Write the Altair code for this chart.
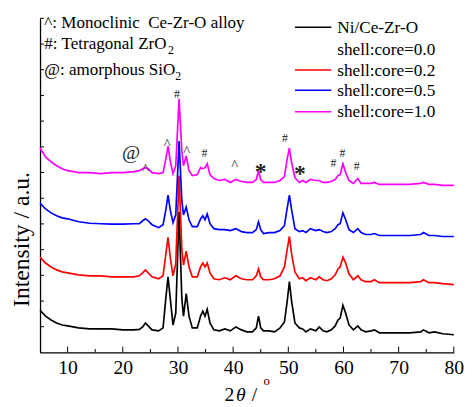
import altair as alt
import pandas as pd

# ---------------- data ----------------
two_theta = [5, 6, 7, 8, 9, 10, 12, 14, 16, 18, 20, 22, 23, 23.6, 24.1, 24.6, 25.3,
             26.5, 27.3, 27.8, 28.2, 28.6, 29.1, 29.6, 30.2, 30.7, 31.0, 31.5, 32.0,
             32.6, 33.5, 34.1, 34.5, 34.9, 35.3, 35.8, 36.5, 37.5, 38.5, 39.5, 40.5,
             41.5, 42.5, 43.5, 44.2, 44.6, 45.0, 45.5, 46.5, 47.5, 48.5, 49.3, 49.8,
             50.2, 50.6, 51.2, 52.0, 52.6, 53.2, 54.0, 55.0, 55.6, 56.3, 57.0, 57.8,
             58.5, 59.0, 59.4, 59.9, 60.4, 61.0, 61.8, 62.6, 63.2, 64.0, 65.0, 65.6,
             66.5, 68, 70, 72, 74, 74.5, 75.5, 76.5, 78, 80]

int_00 = [43, 37, 33, 30, 28, 27, 25, 24, 24, 24, 23, 23, 23.5, 26, 30, 27, 23,
          22, 25, 55, 77, 55, 28, 40, 143, 55, 37, 60, 37,
          25, 25, 37, 42, 37, 44, 30, 23, 22, 24, 22, 26,
          23, 21, 21, 25, 37, 25, 22, 22, 21, 25, 31, 52,
          72, 52, 30, 25, 24, 21, 24, 22, 26, 22, 21, 23,
          27, 33, 35, 48, 40, 28, 23, 27, 23, 21, 22, 23,
          20, 20, 20, 20, 21, 23, 20, 21, 19, 18]

int_02 = [97, 91, 87, 84, 82, 81, 79, 78, 78, 77, 77, 77, 78, 81, 84, 81, 77,
          75, 78, 100, 117, 97, 78, 90, 180, 105, 89, 103, 87,
          77, 77, 87, 91, 87, 91, 81, 75, 74, 76, 74, 78,
          75, 74, 74, 78, 85, 77, 74, 74, 75, 78, 87, 105,
          118, 100, 82, 75, 76, 73, 76, 74, 77, 74, 73, 75,
          79, 85, 87, 97, 91, 80, 74, 78, 74, 72, 72, 74,
          71, 71, 71, 71, 72, 74, 71, 71, 70, 69]

int_05 = [152, 146, 142, 139, 137, 136, 133, 131.5, 131, 130.5, 130.5, 131, 131, 134, 136, 134, 130,
          127, 130, 145, 160, 145, 132, 140, 215, 155, 140, 148, 135,
          128, 128, 136, 139, 135, 141, 131, 126, 125, 125, 124, 126,
          123, 122, 122, 125, 133, 125, 121, 122, 122, 124, 129, 147,
          160, 145, 126, 123, 124, 122, 126, 124, 125, 123, 122, 123,
          126, 130, 131, 142, 135, 125, 122, 126, 122, 120, 120, 121,
          119, 119, 119, 119, 120, 122, 119, 119, 118, 118]

int_10 = [208, 199, 194, 190, 187, 185, 183, 183, 182, 183, 183, 184, 185, 187, 188, 187, 183,
          182, 183, 197, 210, 195, 182, 190, 258, 205, 190, 200, 185,
          180, 181, 188, 187, 188, 192, 181, 177, 175, 176, 173, 176,
          174, 173, 173, 176, 185, 176, 173, 173, 173, 175, 179, 197,
          208, 193, 178, 173, 175, 173, 176, 175, 175, 173, 173, 174,
          176, 180, 181, 192, 183, 175, 172, 177, 172, 172, 172, 173,
          171, 171, 171, 171, 172, 173, 171, 171, 170, 170]

series_labels = ["shell:core=0.0", "shell:core=0.2", "shell:core=0.5", "shell:core=1.0"]
series_values = [int_00, int_02, int_05, int_10]
legend_header = "Ni/Ce-Zr-O"

x_major_ticks = [10, 20, 30, 40, 50, 60, 70, 80]
x_minor_ticks = [15, 25, 35, 45, 55, 65, 75]
y_ticks = [26.2, 52.3, 78.5, 104.6, 130.8, 156.9, 183.1, 209.2, 235.4, 261.5, 287.7, 313.8, 340]

peak_marks = ["@", "^", "^", "#", "^", "#", "^", "*", "#", "*", "#", "#", "#"]
peak_x = [21.5, 24.1, 28.05, 29.8, 31.6, 34.8, 40.3, 45.0, 49.4, 52.1, 58.2, 59.8, 62.4]
peak_y = [203, 191, 216, 263, 209, 203, 195, 190, 218, 187, 193, 203, 190]

phase_notes = ["^: Monoclinic\u00a0 Ce-Zr-O alloy", "#: Tetragonal ZrO", "@: amorphous SiO"]

# ---------------- styles ----------------
colors = ["#000000", "#ff0000", "#0000ff", "#ff00ff"]
FONT = "Liberation Serif"
W, H = 421, 340

x_scale = alt.Scale(domain=[5, 80], nice=False, zero=False)
y_scale = alt.Scale(domain=[0, 340], nice=False, zero=False)

x_axis = alt.Axis(values=x_major_ticks, labelFlush=False, ticks=False, tickSize=0,
                  labelPadding=21, labelBaseline="alphabetic", labelFontSize=20,
                  labelFont=FONT, labelColor="black", domainColor="black",
                  domainWidth=1.3, grid=False, title=None, labelAngle=0)
y_axis = alt.Axis(labels=False, ticks=False, tickSize=0, domainColor="black",
                  domainWidth=1.3, grid=False, title=None)


def X(field="t:Q"):
    return alt.X(field, scale=x_scale, axis=x_axis)


def Y(field="v:Q"):
    return alt.Y(field, scale=y_scale, axis=y_axis)


layers = []
one = pd.DataFrame({"k": [0]})

# spectra (black drawn first, magenta last)
for i, (lab, vals) in enumerate(zip(series_labels, series_values)):
    df = pd.DataFrame({"t": two_theta, "v": vals})
    layers.append(
        alt.Chart(df).mark_line(color=colors[i], strokeWidth=1.7).encode(
            x=X(), y=Y(), order="t:Q"
        )
    )

# inward ticks
layers.append(alt.Chart(pd.DataFrame({"t": x_major_ticks})).mark_rule(color="black", strokeWidth=1).encode(
    x=X(), y=alt.value(H), y2=alt.value(H - 6)))
layers.append(alt.Chart(pd.DataFrame({"t": x_minor_ticks})).mark_rule(color="black", strokeWidth=1).encode(
    x=X(), y=alt.value(H), y2=alt.value(H - 3.5)))
layers.append(alt.Chart(pd.DataFrame({"v": y_ticks})).mark_rule(color="black", strokeWidth=1).encode(
    y=Y(), x=alt.value(0), x2=alt.value(4)))

# peak markers
mark_style = {"@": dict(fontSize=20, fontWeight="normal", dy=0),
              "^": dict(fontSize=15, fontWeight="normal", dy=4),
              "#": dict(fontSize=12, fontWeight="normal", dy=0),
              "*": dict(fontSize=24, fontWeight="bold", dy=6)}
ann = pd.DataFrame({"m": peak_marks, "t": peak_x, "v": peak_y})
for sym, st in mark_style.items():
    sub = ann[ann["m"] == sym]
    layers.append(alt.Chart(sub).mark_text(font=FONT, color="#222222", align="center",
                                           baseline="middle", **st).encode(
        x=X(), y=Y(), text="m:N"))


def txt(s, x, y, size=17.5, **kw):
    return alt.Chart(one).mark_text(text=s, font=FONT, fontSize=size, color="black",
                                    align=kw.pop("align", "left"),
                                    baseline=kw.pop("baseline", "alphabetic"), **kw).encode(
        x=alt.value(x), y=alt.value(y))


# phase notes (top-left)
layers.append(txt(phase_notes[0], 4.4, 10, 17.3))
layers.append(txt(phase_notes[1], 4.4, 31.7, 17.3))
layers.append(txt("2", 130.3, 36.5, 12))
layers.append(txt(phase_notes[2], 4.4, 57.7, 17.3))
layers.append(txt("2", 137.6, 62.8, 12))

# legend
leg_line_y = [9, 52.7, 73.3, 95]
leg_text_y = [37.7, 59, 79, 100.7]
layers.append(txt(legend_header, 302.4, 15))
for i, lab in enumerate(series_labels):
    layers.append(alt.Chart(one).mark_rule(color=colors[i], strokeWidth=1.5).encode(
        x=alt.value(259.4), x2=alt.value(296.4), y=alt.value(leg_line_y[i])))
    layers.append(txt(lab, 302.4, leg_text_y[i]))

# axis titles
layers.append(txt("Intensity / a.u.", -11.1, 225, 24, angle=270, align="center"))
layers.append(txt("2", 187.7, 389, 20))
layers.append(txt("\u03b8", 199.4, 389, 20, fontStyle="italic"))
layers.append(txt("/", 215.4, 389, 20))
layers.append(txt("o", 227.4, 373, 13))

chart = alt.layer(*layers).properties(
    width=W, height=H,
    autosize=alt.AutoSizeParams(type="none"),
    padding={"left": 32.6, "top": 7, "right": 12.4, "bottom": 52},
).configure_view(stroke=None)

chart.save("out.html", embed_options={"renderer": "svg", "actions": False})
